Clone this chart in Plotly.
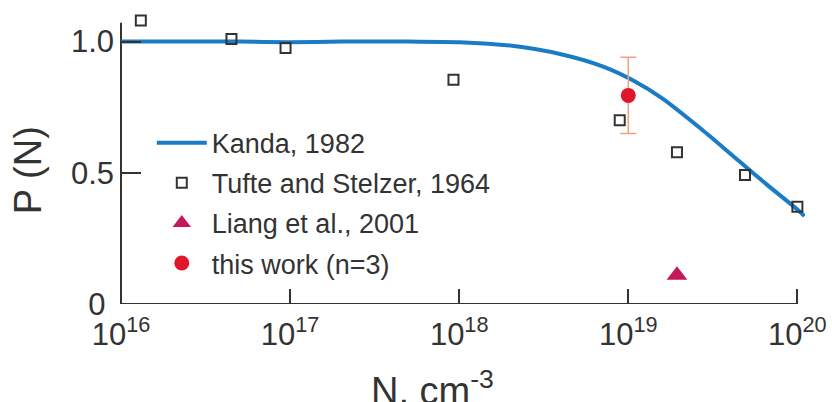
import plotly.graph_objects as go

# Kanda, 1982 curve
kanda_N = [1e16, 2e16, 5e16, 1e17, 2e17, 5e17, 1e18, 2e18, 4e18, 7.1e18, 1.07e19,
           1.58e19, 2.69e19, 4.57e19, 6.6e19, 1.0e20, 1.1e20]
kanda_P = [1.0, 1.0, 1.0, 0.998, 1.0, 1.0, 0.998, 0.985, 0.952, 0.905, 0.852,
           0.785, 0.668, 0.542, 0.455, 0.360, 0.335]

# Tufte and Stelzer, 1964
tufte_N = [1.31e16, 4.5e16, 9.4e16, 9.25e17, 8.9e18, 1.94e19, 4.9e19, 1.0e20]
tufte_P = [1.08, 1.01, 0.976, 0.855, 0.70, 0.578, 0.492, 0.371]

# Liang et al., 2001
liang_N = [1.94e19]
liang_P = [0.11]

# this work (n=3)
work_N = [1e19]
work_P = [0.795]
work_err = [0.145]

x_tickvals = [1e16, 1e17, 1e18, 1e19, 1e20]
x_ticktext = ["10<sup>16</sup>", "10<sup>17</sup>", "10<sup>18</sup>",
              "10<sup>19</sup>", "10<sup>20</sup>"]
y_tickvals = [0, 0.5, 1.0]
y_ticktext = ["0\u00a0", "0.5", "1.0"]

X_RANGE = [16, 20.045]
Y_RANGE = [0, 1.09]
X_AXIS_END = 20       # log10 of the x-axis line end
Y_AXIS_TOP = 1.072    # top of the y-axis line

FONT = "Liberation Sans, Arial, sans-serif"
AX = "#333333"

fig = go.Figure()
fig.add_trace(go.Scatter(x=kanda_N, y=kanda_P, mode="lines", name="Kanda, 1982",
                         line=dict(color="#1a7bc6", width=4, shape="spline", smoothing=0.8),
                         legendgroup="a"))
fig.add_trace(go.Scatter(x=tufte_N, y=tufte_P, mode="markers", name="Tufte and Stelzer, 1964",
                         marker=dict(symbol="square-open", size=10, color="#333333",
                                     line=dict(width=2, color="#333333")),
                         cliponaxis=False, legendgroup="b"))
fig.add_trace(go.Scatter(x=liang_N, y=liang_P, mode="markers", name="Liang et al., 2001",
                         marker=dict(symbol="triangle-up", size=18, color="#c4185e"),
                         cliponaxis=False, legendgroup="c"))
fig.add_trace(go.Scatter(x=work_N, y=work_P, mode="markers", name="this work (n=3)",
                         marker=dict(symbol="circle", size=15, color="#e0162b"),
                         error_y=dict(type="data", array=work_err, color="#f0a080",
                                      thickness=1.5, width=8),
                         cliponaxis=False, legendgroup="d"))

fig.update_layout(
    width=832, height=402,
    margin=dict(l=121, r=27, t=18, b=98, autoexpand=False),
    paper_bgcolor="white", plot_bgcolor="white",
    font=dict(family=FONT, color=AX),
    showlegend=True,
    legend=dict(x=0.045, y=0.648, xanchor="left", yanchor="top",
                bgcolor="rgba(0,0,0,0)", font=dict(size=27, color=AX),
                itemwidth=50, tracegroupgap=2, traceorder="grouped"),
    xaxis=dict(type="log", range=X_RANGE, showgrid=False, zeroline=False, automargin=False,
               showline=False, tickmode="array", tickvals=x_tickvals, ticktext=x_ticktext,
               ticks="inside", ticklen=15, tickwidth=2, tickcolor=AX,
               ticklabelstandoff=9,
               tickfont=dict(size=31, color=AX)),
    yaxis=dict(range=Y_RANGE, showgrid=False, zeroline=False, automargin=False,
               showline=False,
               tickmode="array", tickvals=y_tickvals, ticktext=y_ticktext,
               ticks="inside", ticklen=20, tickwidth=2, tickcolor=AX,
               ticklabelstandoff=6,
               tickfont=dict(size=31, color=AX)),
    shapes=[
        dict(type="line", xref="x domain", yref="y",
             x0=0, x1=(X_AXIS_END - X_RANGE[0]) / (X_RANGE[1] - X_RANGE[0]), y0=0, y1=0,
             line=dict(color=AX, width=2), layer="above"),
        dict(type="line", xref="x domain", yref="y",
             x0=0, x1=0, y0=0, y1=Y_AXIS_TOP,
             line=dict(color=AX, width=2), layer="below"),
    ],
    annotations=[
        dict(text="P (N)", xref="paper", yref="paper", x=-0.136, y=0.468,
             textangle=-90, showarrow=False, font=dict(size=38, color=AX),
             xanchor="center", yanchor="middle"),
        dict(text="N, cm<sup>-3</sup>", xref="paper", yref="paper", x=0.4547, y=-0.2937,
             showarrow=False, font=dict(size=38, color=AX),
             xanchor="center", yanchor="middle"),
    ],
)

fig.write_html("out.html", config={"displayModeBar": False},
               post_script="document.body.style.margin='0';")
